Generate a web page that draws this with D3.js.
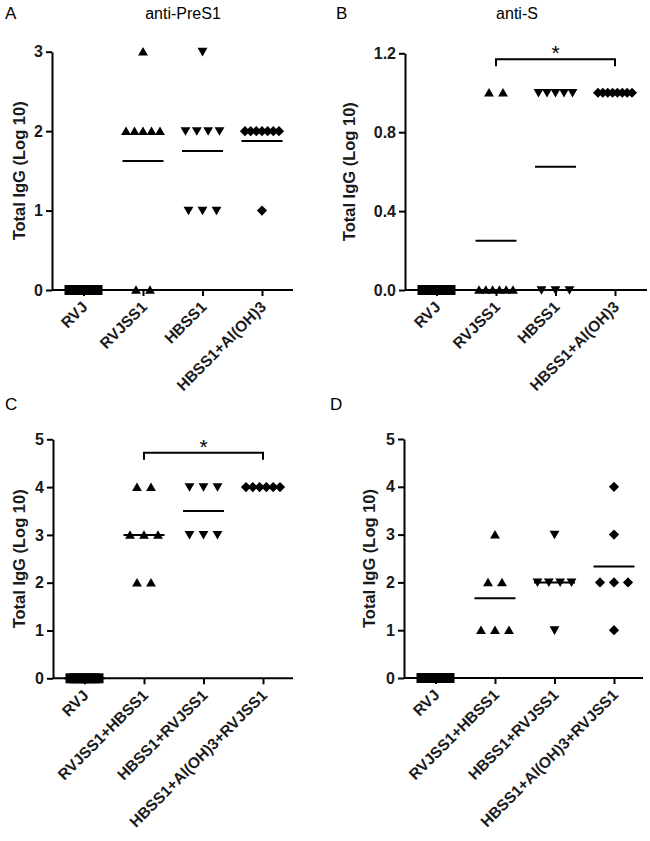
<!DOCTYPE html>
<html><head><meta charset="utf-8">
<script src="https://cdn.jsdelivr.net/npm/d3@7"></script>
<style>body{margin:0;background:#fff}svg{display:block;font-family:"Liberation Sans",Arial,sans-serif}
.tick text{font-size:16px;font-weight:bold;fill:#1a1a1a;font-family:"Liberation Sans",Arial,sans-serif}</style>
</head><body><svg id="c" width="650" height="841"></svg>
<script>
// ---- data ----
const catsAB = ["RVJ", "RVJSS1", "HBSS1", "HBSS1+Al(OH)3"];
const catsCD = ["RVJ", "RVJSS1+HBSS1", "HBSS1+RVJSS1", "HBSS1+Al(OH)3+RVJSS1"];
const symbolsByCol = ["square", "up", "down", "diamond"];

const aValues = [
  [0,0,0,0,0,0,0,0],
  [3,2,2,2,2,2,0,0],
  [3,2,2,2,2,1,1,1],
  [2,2,2,2,2,2,2,1]
];
const bValues = [
  [0,0,0,0,0,0,0,0],
  [1,1,0,0,0,0,0,0],
  [1,1,1,1,1,0,0,0],
  [1,1,1,1,1,1,1,1]
];
const cValues = [
  [0,0,0,0,0,0,0,0],
  [4,4,3,3,3,2,2],
  [4,4,4,3,3,3],
  [4,4,4,4,4,4]
];
const dValues = [
  [0,0,0,0,0,0,0,0],
  [3,2,2,1,1,1],
  [3,2,2,2,2,1],
  [4,3,2,2,2,1]
];
const aTicks = [0,1,2,3];
const bTicks = [0,0.4,0.8,1.2];
const cdTicks = [0,1,2,3,4,5];
const panelLetters = ["A","B","C","D"];
const panelTitles = ["anti-PreS1","anti-S","",""];
const yLabel = "Total IgG (Log 10)";
const sigB = {from:1, to:3, level:1.17, text:"*"};
const sigC = {from:1, to:3, level:4.72, text:"*"};

// ---- layout ----
const panels = [
  {letter:panelLetters[0], title:panelTitles[0], cats:catsAB, vals:aValues, ticks:aTicks, fmt:d3.format("d"),
   left:52, right:293, top:51.7, bottom:290, ymax:3, letterX:5, letterY:19, titleX:183, titleY:19, ylabX:25, sig:null},
  {letter:panelLetters[1], title:panelTitles[1], cats:catsAB, vals:bValues, ticks:bTicks, fmt:d3.format(".1f"),
   left:405, right:647, top:53.3, bottom:290, ymax:1.2, letterX:336, letterY:19, titleX:517, titleY:19, ylabX:355, sig:sigB},
  {letter:panelLetters[2], title:panelTitles[2], cats:catsCD, vals:cValues, ticks:cdTicks, fmt:d3.format("d"),
   left:53, right:293, top:439.3, bottom:678.3, ymax:5, letterX:5, letterY:410, ylabX:25, sig:sigC},
  {letter:panelLetters[3], title:panelTitles[3], cats:catsCD, vals:dValues, ticks:cdTicks, fmt:d3.format("d"),
   left:404, right:643, top:439, bottom:678, ymax:5, letterX:330, letterY:410, ylabX:375, sig:null}
];

const svg = d3.select("#c");

function symPath(kind){
  if(kind==="square") return d3.symbol(d3.symbolSquare, 100)();
  if(kind==="diamond") return d3.symbol(d3.symbolSquare, 52)();
  return d3.symbol(d3.symbolTriangle, 42)();
}

panels.forEach(p=>{
  const g = svg.append("g");
  const y = d3.scaleLinear().domain([0,p.ymax]).range([p.bottom,p.top]);
  const x = d3.scalePoint().domain(p.cats).range([p.left+31.5, p.left+31.5+3*59.5]);

  // letter & title
  g.append("text").attr("x",p.letterX).attr("y",p.letterY).attr("font-size",17).text(p.letter);
  if(p.title) g.append("text").attr("x",p.titleX).attr("y",p.titleY).attr("font-size",16)
    .attr("text-anchor","middle").text(p.title);

  // y axis
  const ya = g.append("g").attr("transform",`translate(${p.left},0)`)
    .call(d3.axisLeft(y).tickValues(p.ticks).tickFormat(p.fmt).tickSize(6).tickPadding(3).tickSizeOuter(0));
  ya.attr("font-size",null).attr("font-family",null);
  ya.select(".domain").attr("stroke","#000").attr("stroke-width",2);
  ya.selectAll(".tick line").attr("stroke-width",2);

  // x axis
  const xa = g.append("g").attr("transform",`translate(0,${p.bottom})`)
    .call(d3.axisBottom(x).tickSize(6).tickSizeOuter(0).tickFormat(""));
  xa.select(".domain").attr("d",`M${p.left},0H${p.right}`).attr("stroke","#000").attr("stroke-width",2);
  xa.selectAll(".tick line").attr("stroke-width",2);
  p.cats.forEach(c=>{
    g.append("text").attr("transform",`translate(${x(c)+5},${p.bottom+18}) rotate(-45)`)
      .attr("text-anchor","end").attr("font-size",15.5).attr("font-weight","bold").attr("fill","#1a1a1a").text(c);
  });

  // y label
  g.append("text").attr("transform",`translate(${p.ylabX},${(p.top+p.bottom)/2}) rotate(-90)`)
    .attr("text-anchor","middle").attr("font-size",16.5).attr("font-weight","bold").attr("fill","#1a1a1a").text(yLabel);

  // points
  p.vals.forEach((arr,ci)=>{
    const cx = x(p.cats[ci]);
    const kind = symbolsByCol[ci];
    const groups = d3.group(arr, v=>v);
    groups.forEach((list,v)=>{
      const n = list.length;
      let step = 14;
      if(n>3) step = (kind==="square"?28:34)/(n-1);
      list.forEach((_,i)=>{
        const px = cx + (i-(n-1)/2)*step;
        const py = y(v);
        let tr = `translate(${px},${py})`;
        if(kind==="diamond") tr += " rotate(45)";
        if(kind==="up") tr = `translate(${px},${py+1})`;
        if(kind==="down") tr = `translate(${px},${py-1}) rotate(180)`;
        g.append("path").attr("d",symPath(kind)).attr("transform",tr).attr("fill","#000");
      });
    });
    // mean line
    const m = d3.mean(arr);
    g.append("line").attr("x1",cx-20.5).attr("x2",cx+20.5).attr("y1",y(m)).attr("y2",y(m))
      .attr("stroke","#000").attr("stroke-width",2);
  });

  // significance
  if(p.sig){
    const x1 = x(p.cats[p.sig.from]), x2 = x(p.cats[p.sig.to]), yy = y(p.sig.level);
    g.append("path").attr("d",`M${x1},${yy+7}V${yy}H${x2}V${yy+7}`).attr("fill","none")
      .attr("stroke","#000").attr("stroke-width",2);
    g.append("text").attr("x",(x1+x2)/2).attr("y",yy+1).attr("text-anchor","middle")
      .attr("font-size",21).text(p.sig.text);
  }
});
</script></body></html>
